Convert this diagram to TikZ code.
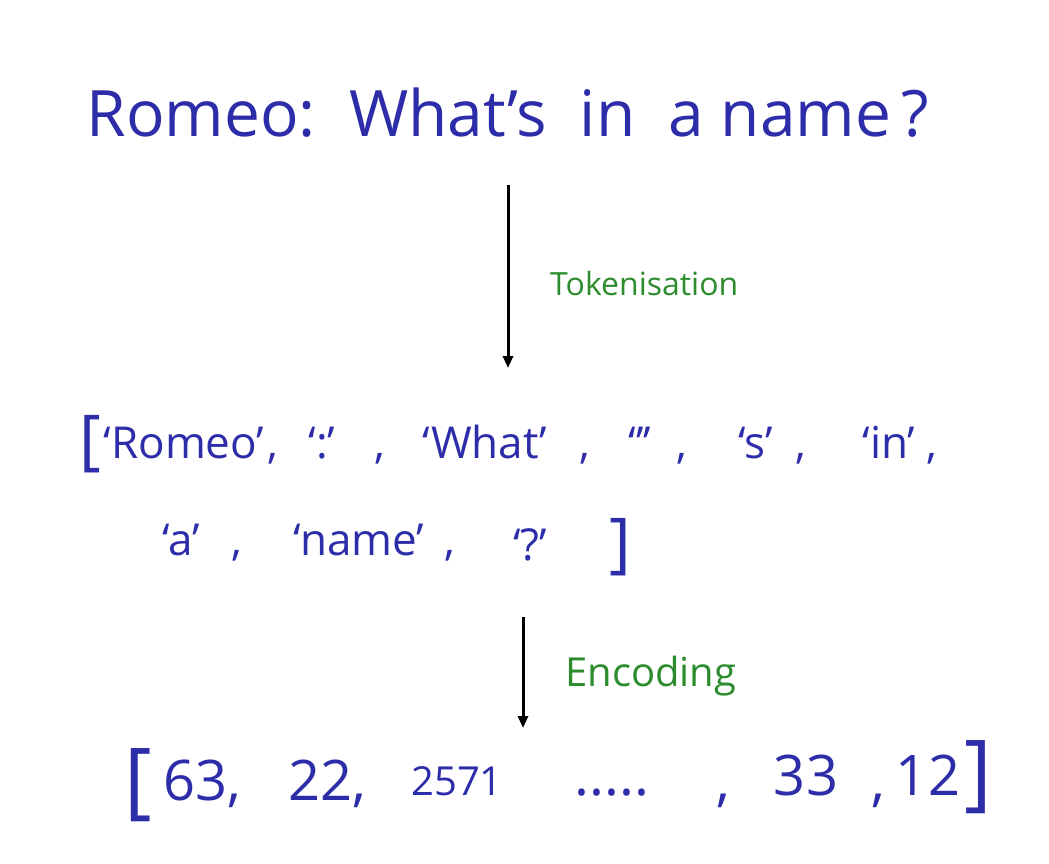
\documentclass[tikz,border=0pt]{standalone}
\usepackage{fontspec}
\setmainfont{Open Sans}
\usetikzlibrary{arrows.meta}
\definecolor{inkblue}{RGB}{45,45,170}
\definecolor{inkgreen}{RGB}{45,140,45}
\tikzset{
  bluetext/.style={text=inkblue, inner sep=0pt, anchor=base},
  tokfont/.style={bluetext, font=\fontsize{44}{50}\selectfont},
  brfont/.style={bluetext, font=\fontsize{66}{70}\selectfont},
  idfont/.style={bluetext, font=\fontsize{56}{60}\selectfont},
  bigbr/.style={bluetext, font=\fontsize{84}{90}\selectfont},
  greentext/.style={text=inkgreen, inner sep=0pt, anchor=base west},
  flow/.style={line width=3pt, -{Triangle[width=10pt,length=12pt]}}
}
\begin{document}
\begin{tikzpicture}[x=1pt,y=-1pt]
\useasboundingbox (0,0) rectangle (1049,864);
% title
\node[bluetext, font=\fontsize{64}{70}\selectfont] (title) at (508,137) {Romeo:\ \ What's\ \ in\ \ a\ name\,?};
% labels
\node[greentext, font=\fontsize{32}{36}\selectfont] (tok) at (550,295) {Tokenisation};
\node[greentext, font=\fontsize{40}{44}\selectfont] (enc) at (565,686) {Encoding};
% token line 1
\node[brfont]  (b1)  at (90,462) {[};
\node[tokfont] (r1)  at (184,458) {‘Romeo’};
\node[tokfont] (c1)  at (273,458) {,};
\node[tokfont] (r2)  at (322,458) {‘:’};
\node[tokfont] (c2)  at (380,458) {,};
\node[tokfont] (r3)  at (485,458) {‘What’};
\node[tokfont] (c3)  at (585,458) {,};
\node[tokfont] (r4)  at (640,458) {‘'’};
\node[tokfont] (c4)  at (682,458) {,};
\node[tokfont] (r5)  at (756,458) {‘s’};
\node[tokfont] (c5)  at (801,458) {,};
\node[tokfont] (r6)  at (889,458) {‘in’};
\node[tokfont] (c6)  at (932,458) {,};
% token line 2
\node[tokfont] (r7)  at (181,555) {‘a’};
\node[tokfont] (c7)  at (237,555) {,};
\node[tokfont] (r8)  at (359,555) {‘name’};
\node[tokfont] (c8)  at (450,555) {,};
\node[tokfont] (r9)  at (530,560) {‘?’};
\node[brfont]  (b2)  at (620,565) {]};
% ids
\node[bigbr]  (b3)  at (138,808) {[};
\node[idfont] (n1)  at (202,800) {63,};
\node[idfont] (n2)  at (327,800) {22,};
\node[bluetext, font=\fontsize{40}{44}\selectfont] (n3) at (457,795) {2571};
\node[idfont] (n4)  at (612,795) {.....};
\node[idfont] (n5)  at (723,800) {,};
\node[idfont] (n6)  at (806,795) {33};
\node[idfont] (n7)  at (878,800) {,};
\node[idfont] (n8)  at (928,795) {12};
\node[bigbr]  (b4)  at (978,800) {]};
% arrows
\coordinate (a1s) at (508,185);
\coordinate (a1e) at (508,368);
\coordinate (a2s) at (523,617);
\coordinate (a2e) at (523,728);
\draw[flow] (a1s) -- (a1e);
\draw[flow] (a2s) -- (a2e);
\end{tikzpicture}
\end{document}
